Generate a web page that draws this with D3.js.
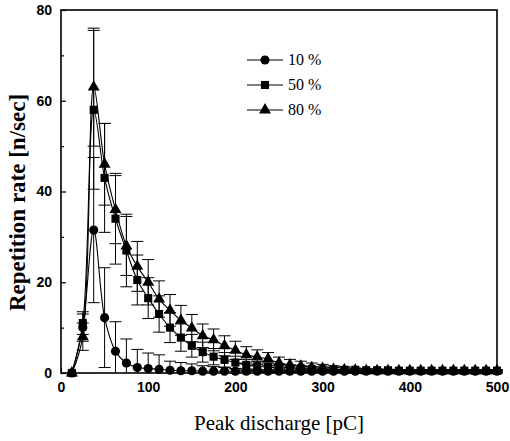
<!DOCTYPE html>
<html>
<head>
<meta charset="utf-8">
<script src="https://cdn.jsdelivr.net/npm/d3@7"></script>
<style>
  body { margin: 0; background: #fff; }
  svg { display: block; }
</style>
</head>
<body>
<div id="chart"></div>
<script>
// peak discharge bins [pC]
const charge = [12.5, 25, 37.5, 50, 62.5, 75, 87.5, 100, 112.5, 125, 137.5, 150, 162.5, 175, 187.5, 200,
  212.5, 225, 237.5, 250, 262.5, 275, 287.5, 300, 312.5, 325, 337.5, 350, 362.5, 375, 387.5, 400,
  412.5, 425, 437.5, 450, 462.5, 475, 487.5, 500];

// repetition rate [n/sec]
const rate10 = [0, 10, 31.5, 12.2, 4.8, 2.2, 1.2, 1.0, 0.8, 0.6, 0.5, 0.5, 0.4, 0.4, 0.4, 0.4,
  0.4, 0.4, 0.4, 0.4, 0.4, 0.4, 0.4, 0.4, 0.4, 0.4, 0.4, 0.4, 0.4, 0.4, 0.4, 0.4,
  0.4, 0.4, 0.4, 0.4, 0.4, 0.4, 0.4, 0.4];
const err10 = [0, 3, 16, 11, 6.5, 5.3, 4, 3.4, 3.2, 2, 1.8, 1.5, 1.2, 1, 0.8, 0.6,
  0.5, 0.4, 0.3, 0.3, 0.2, 0.2, 0.2, 0.2, 0.2, 0.2, 0.2, 0.2, 0.2, 0.2, 0.2, 0.2,
  0.2, 0.2, 0.2, 0.2, 0.2, 0.2, 0.2, 0.2];

const rate50 = [0, 11, 58, 43, 34, 27, 20.5, 16.5, 13, 10, 7.8, 6, 4.6, 3.6, 2.9, 2.3,
  1.8, 1.5, 1.3, 1.2, 1.1, 1.0, 0.9, 0.8, 0.8, 0.7, 0.7, 0.6, 0.6, 0.6, 0.5, 0.5,
  0.5, 0.5, 0.5, 0.5, 0.5, 0.5, 0.5, 0.5];
const err50 = [0, 2.5, 17.5, 12, 10, 8, 5.5, 4.5, 4, 3.3, 3, 2.5, 2.2, 1.8, 1.6, 1.4,
  1.2, 1, 0.9, 0.8, 0.7, 0.6, 0.5, 0.5, 0.4, 0.4, 0.3, 0.3, 0.3, 0.2, 0.2, 0.2,
  0.2, 0.2, 0.2, 0.2, 0.2, 0.2, 0.2, 0.2];

const rate80 = [0, 8, 63, 46, 36, 28, 23.5, 20, 16.3, 13.8, 11.6, 9.9, 8.2, 7.3, 6, 5,
  4, 3.5, 3.1, 2.2, 1.8, 1.5, 1.2, 1.0, 0.8, 0.7, 0.6, 0.5, 0.5, 0.5, 0.5, 0.5,
  0.5, 0.5, 0.5, 0.5, 0.5, 0.5, 0.5, 0.5];
const err80 = [0, 3, 13, 9, 7.5, 6.5, 5.5, 5, 4, 3.5, 3.3, 3, 2.6, 2.4, 2.2, 2,
  1.8, 1.6, 1.4, 1.3, 1.2, 1.1, 1, 0.9, 0.8, 0.7, 0.5, 0.4, 0.3, 0.3, 0.2, 0.2,
  0.2, 0.2, 0.2, 0.2, 0.2, 0.2, 0.2, 0.2];

const seriesNames = ['10 %', '50 %', '80 %'];
const xTicks = [0, 100, 200, 300, 400, 500];
const yTicks = [0, 20, 40, 60, 80];
const yMinor = [10, 30, 50, 70];

const width = 510, height = 441;
const margin = { top: 10, right: 13, bottom: 68, left: 61 };

const svg = d3.select('#chart').append('svg')
  .attr('width', width)
  .attr('height', height);

const x = d3.scaleLinear().domain([0, 500]).range([margin.left, width - margin.right]);
const y = d3.scaleLinear().domain([0, 80]).range([height - margin.bottom, margin.top]);

// frame
svg.append('rect')
  .attr('x', x(0)).attr('y', y(80))
  .attr('width', x(500) - x(0)).attr('height', y(0) - y(80))
  .attr('fill', 'none').attr('stroke', '#000').attr('stroke-width', 1.6);

// axes, ticks pointing inward
const xAxis = svg.append('g')
  .attr('transform', `translate(0,${y(0)})`)
  .call(d3.axisBottom(x).tickValues(xTicks).tickSize(-5).tickPadding(9).tickFormat(d3.format('d')));
const yAxis = svg.append('g')
  .attr('transform', `translate(${x(0)},0)`)
  .call(d3.axisLeft(y).tickValues(yTicks).tickSize(-5).tickPadding(9).tickFormat(d3.format('d')));
svg.append('g')
  .attr('transform', `translate(${x(0)},0)`)
  .call(d3.axisLeft(y).tickValues(yMinor).tickSize(-3).tickFormat(''))
  .select('.domain').remove();

[xAxis, yAxis].forEach(a => {
  a.select('.domain').remove();
  a.selectAll('text')
    .attr('font-family', 'Liberation Sans, Arial, sans-serif')
    .attr('font-weight', 'bold')
    .attr('font-size', 14)
    .attr('fill', '#000');
});
svg.selectAll('.tick line').attr('stroke', '#000').attr('stroke-width', 1.2);

// axis titles
svg.append('text')
  .attr('x', (x(0) + x(500)) / 2)
  .attr('y', 430)
  .attr('text-anchor', 'middle')
  .attr('font-family', 'Liberation Serif, Times New Roman, serif')
  .attr('font-size', 21)
  .text('Peak discharge [pC]');

svg.append('text')
  .attr('transform', `translate(25,${(y(0) + y(80)) / 2 + 11}) rotate(-90)`)
  .attr('text-anchor', 'middle')
  .attr('font-family', 'Liberation Serif, Times New Roman, serif')
  .attr('font-weight', 'bold')
  .attr('font-size', 23)
  .text('Repetition rate [n/sec]');

const series = [
  { name: seriesNames[0], values: rate10, errs: err10, shape: d3.symbolCircle, size: 66 },
  { name: seriesNames[1], values: rate50, errs: err50, shape: d3.symbolSquare, size: 66 },
  { name: seriesNames[2], values: rate80, errs: err80, shape: d3.symbolTriangle, size: 62 }
];

const line = d3.line()
  .x(d => x(d.c))
  .y(d => y(d.v))
  .curve(d3.curveCatmullRom.alpha(0.5));

const plot = svg.append('g');

series.forEach(s => {
  const pts = charge.map((c, i) => ({ c: c, v: s.values[i], e: s.errs[i] }));
  const g = plot.append('g');

  // error bars with caps
  const eb = g.selectAll('.err').data(pts.filter(d => d.e > 0)).enter().append('g')
    .attr('stroke', '#000').attr('stroke-width', 1);
  eb.append('line')
    .attr('x1', d => x(d.c)).attr('x2', d => x(d.c))
    .attr('y1', d => y(d.v + d.e)).attr('y2', d => y(Math.max(0, d.v - d.e)));
  eb.append('line')
    .attr('x1', d => x(d.c) - 6).attr('x2', d => x(d.c) + 6)
    .attr('y1', d => y(d.v + d.e)).attr('y2', d => y(d.v + d.e));
  eb.filter(d => d.v - d.e > 0).append('line')
    .attr('x1', d => x(d.c) - 6).attr('x2', d => x(d.c) + 6)
    .attr('y1', d => y(d.v - d.e)).attr('y2', d => y(d.v - d.e));

  g.append('path')
    .datum(pts)
    .attr('d', line)
    .attr('fill', 'none')
    .attr('stroke', '#000')
    .attr('stroke-width', 1.1);

  g.selectAll('.mark').data(pts).enter().append('path')
    .attr('transform', d => `translate(${x(d.c)},${y(d.v)})`)
    .attr('d', d3.symbol().type(s.shape).size(s.size))
    .attr('fill', '#000');
});

// legend
const legend = svg.append('g');
series.forEach((s, i) => {
  const ly = 60 + i * 25;
  legend.append('line')
    .attr('x1', 247).attr('x2', 283)
    .attr('y1', ly).attr('y2', ly)
    .attr('stroke', '#000').attr('stroke-width', 1.1);
  legend.append('path')
    .attr('transform', `translate(265,${ly})`)
    .attr('d', d3.symbol().type(s.shape).size(s.size))
    .attr('fill', '#000');
  legend.append('text')
    .attr('x', 288).attr('y', ly + 5)
    .attr('font-family', 'Liberation Serif, Times New Roman, serif')
    .attr('font-size', 16)
    .text(s.name);
});
</script>
</body>
</html>
